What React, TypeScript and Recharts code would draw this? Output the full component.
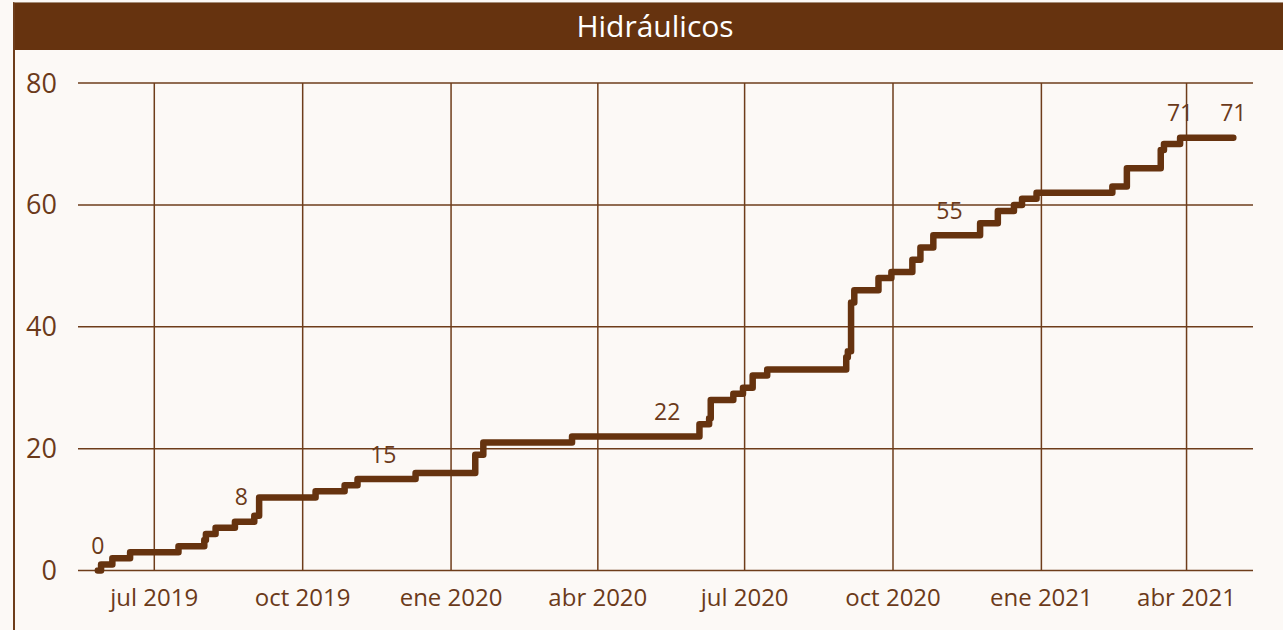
import React from 'react';
import { LineChart, Line, XAxis, YAxis, CartesianGrid, LabelList, ReferenceLine } from 'recharts';

// Cumulative count of "Hidráulicos" (step series)
const stepDates = [
  '2019-05-27', '2019-05-29', '2019-06-05', '2019-06-16', '2019-07-16', '2019-08-01', '2019-08-02',
  '2019-08-08', '2019-08-20', '2019-08-24', '2019-09-01', '2019-09-04', '2019-10-09', '2019-10-27',
  '2019-11-04', '2019-11-20', '2019-12-10', '2020-01-16', '2020-01-21', '2020-03-16', '2020-05-14',
  '2020-06-03', '2020-06-09', '2020-06-10', '2020-06-24', '2020-06-30', '2020-07-06', '2020-07-15',
  '2020-09-02', '2020-09-03', '2020-09-05', '2020-09-07', '2020-09-22', '2020-09-30', '2020-10-13',
  '2020-10-18', '2020-10-26', '2020-11-05', '2020-11-24', '2020-12-05', '2020-12-15', '2020-12-20',
  '2020-12-29', '2021-02-14', '2021-02-23', '2021-03-16', '2021-03-18', '2021-03-28', '2021-04-30',
];
const stepValues = [
  0, 1, 2, 3, 4, 5, 6,
  7, 8, 8, 9, 12, 13, 14,
  15, 15, 16, 19, 21, 22, 22,
  24, 25, 28, 29, 30, 32, 33,
  35, 36, 44, 46, 48, 49, 51,
  53, 55, 55, 57, 59, 60, 61,
  62, 63, 66, 69, 70, 71, 71,
];
const pointLabels = [
  '0', '', '', '', '', '', '',
  '', '', '8', '', '', '', '',
  '', '15', '', '', '', '', '22',
  '', '', '', '', '', '', '',
  '', '', '', '', '', '', '',
  '', '', '55', '', '', '', '',
  '', '', '', '', '', '71', '71',
];

const xTickDates = ['2019-07-01', '2019-10-01', '2020-01-01', '2020-04-01', '2020-07-01', '2020-10-01', '2021-01-01', '2021-04-01'];
const xTickLabels = ['jul 2019', 'oct 2019', 'ene 2020', 'abr 2020', 'jul 2020', 'oct 2020', 'ene 2021', 'abr 2021'];
const xDomainDates = ['2019-05-14T16:48:00Z', '2021-05-12T04:48:00Z'];
const yTicks = [0, 20, 40, 60, 80];

const TITLE = 'Hidráulicos';

const data = stepDates.map((d, i) => ({
  t: Date.parse(d),
  v: stepValues[i],
  lbl: pointLabels[i],
}));
const xTicks = xTickDates.map((d) => Date.parse(d));
const xDomain = xDomainDates.map((d) => Date.parse(d));

const BROWN = '#66330f';
const TEXT = '#6b3a1a';
const GRID = '#6e3d1b';
const FONT = '"Open Sans", "DejaVu Sans", sans-serif';

const renderLabel = (props: any) => {
  const { x, y, value } = props;
  if (value === '' || value === undefined || value === null) return null;
  return (
    <text x={x} y={y - 16.5} textAnchor="middle" fill={TEXT} fontSize={23} fontFamily={FONT}>
      {value}
    </text>
  );
};

export default function App() {
  return (
    <div
      style={{
        position: 'absolute',
        left: 0,
        top: 0,
        width: 1283,
        height: 630,
        background: '#fcf9f6',
        overflow: 'hidden',
        fontFamily: FONT,
      }}
    >
      <div
        style={{
          position: 'absolute',
          left: 13,
          top: 2,
          width: 1300,
          height: 660,
          borderLeft: `2px solid ${GRID}`,
          borderTop: '1px solid #a58d78',
          boxSizing: 'border-box',
        }}
      />
      <div
        style={{
          position: 'absolute',
          left: 15,
          top: 3,
          width: 1290,
          height: 47,
          background: BROWN,
          color: '#ffffff',
          fontSize: 30,
          lineHeight: '46px',
        }}
      >
        <span style={{ position: 'absolute', left: 655 - 15, top: 0, transform: 'translateX(-50%)', whiteSpace: 'nowrap' }}>
          {TITLE}
        </span>
      </div>
      <div style={{ position: 'absolute', left: 0, top: 0 }}>
        <LineChart width={1283} height={630} data={data} margin={{ top: 83, right: 30, bottom: 29.5, left: 18 }}>
          <CartesianGrid stroke={GRID} strokeWidth={1.5} vertical={false} />
          {xTicks.map((t) => (
            <ReferenceLine key={t} x={t} stroke={GRID} strokeWidth={1.5} />
          ))}
          <XAxis
            dataKey="t"
            type="number"
            domain={xDomain}
            ticks={xTicks}
            allowDataOverflow
            tickFormatter={(val: number) => {
              const idx = xTicks.indexOf(val);
              return idx >= 0 ? xTickLabels[idx] : '';
            }}
            axisLine={false}
            tickLine={false}
            tickSize={0}
            tickMargin={18}
            height={30}
            tick={{ fill: TEXT, fontSize: 24, fontFamily: FONT }}
          />
          <YAxis
            type="number"
            domain={[0, 80]}
            ticks={yTicks}
            axisLine={false}
            tickLine={false}
            tickSize={0}
            tickMargin={21}
            width={60}
            tick={{ fill: TEXT, fontSize: 27, fontFamily: FONT }}
          />
          <Line
            type="stepAfter"
            dataKey="v"
            stroke={BROWN}
            strokeWidth={6.5}
            strokeLinecap="round"
            strokeLinejoin="round"
            dot={false}
            activeDot={false}
            isAnimationActive={false}
          >
            <LabelList dataKey="lbl" content={renderLabel} />
          </Line>
        </LineChart>
      </div>
    </div>
  );
}
